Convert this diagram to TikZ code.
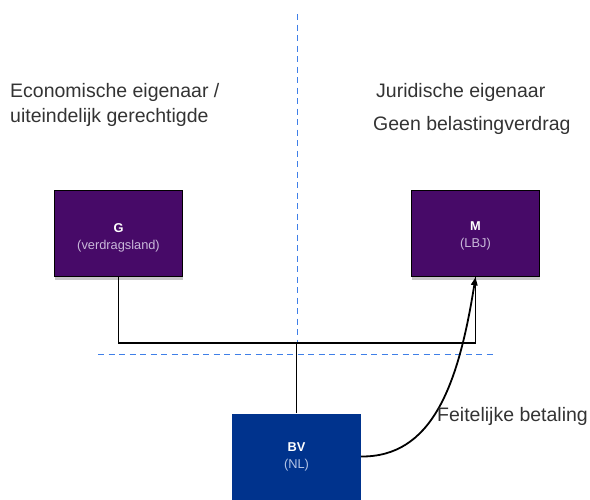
\documentclass[tikz,border=0pt]{standalone}
\usepackage{fontspec}
\setmainfont{Liberation Sans}
\usetikzlibrary{arrows.meta,shadows}
\definecolor{kpurple}{HTML}{470A68}
\definecolor{kblue}{HTML}{00338D}
\definecolor{dashblue}{HTML}{3F7FE8}
\definecolor{txt}{HTML}{333333}
\definecolor{sublav}{HTML}{C9B9DA}
\definecolor{subblue}{HTML}{B4C4E6}
\begin{document}
\begin{tikzpicture}[x=1pt,y=-1pt,
  entity/.style={draw=black, line width=1.6pt, fill=kpurple, minimum width=128pt, minimum height=86pt, inner sep=0pt,
    drop shadow={shadow xshift=0pt, shadow yshift=-3pt, opacity=0.22, fill=black}},
  bvbox/.style={fill=kblue, minimum width=129pt, minimum height=86pt, inner sep=0pt},
  boxtext/.style={text=white, align=center, inner sep=0pt, font=\fontsize{12.8}{17.5}\selectfont},
  lbl/.style={text=txt, anchor=base west, inner sep=0pt, font=\fontsize{19.5}{23}\selectfont},
  divider/.style={dashblue, line width=1.5pt, dash pattern=on 6pt off 4.5pt},
  conn/.style={black, line width=1.8pt}
]
\useasboundingbox (0,0) rectangle (590,499);

% dividers
\draw[divider] (297.5,14) -- (297.5,343);
\draw[divider] (98,354.5) -- (493,354.5);

% boxes
\node[entity] (G) at (118.5,233.5) {};
\node[boxtext] (Gt) at (118.5,238) {\textbf{G}\\\textcolor{sublav}{(verdragsland)}};
\node[entity] (M) at (475.5,233.5) {};
\node[boxtext] (Mt) at (475.5,236) {\textbf{M}\\\textcolor{sublav}{(LBJ)}};
\node[bvbox] (BV) at (296.5,456.5) {};
\node[boxtext] (BVt) at (296.5,457) {\textbf{BV}\\\textcolor{subblue}{(NL)}};

% connectors
\coordinate (j) at (297,343);
\draw[conn] (G.south) |- (M.south |- j) -- (M.south);
\draw[conn] (BV.north) -- (BV.north |- j);
\draw[conn, -{Triangle[length=8pt,width=6.5pt]}] (BV.east) .. controls (431,457) and (458,388) .. (M.south);

% labels
\node[lbl] (econ1) at (10,97) {Economische eigenaar /};
\node[lbl] (econ2) at (10,122) {uiteindelijk gerechtigde};
\node[lbl] (jur) at (376,97) {Juridische eigenaar};
\node[lbl] (geen) at (373,130) {Geen belastingverdrag};
\node[lbl] (feit) at (437,421) {Feitelijke betaling};
\end{tikzpicture}
\end{document}
